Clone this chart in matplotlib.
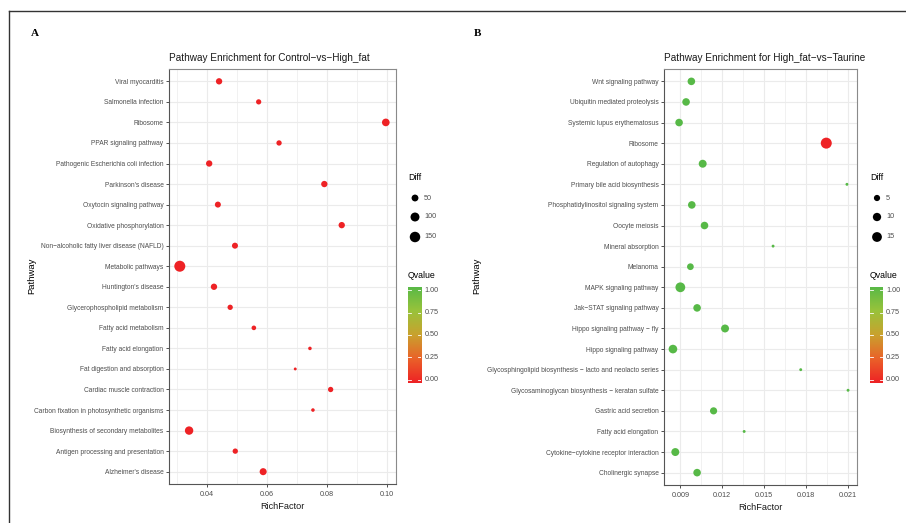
import numpy as np
import matplotlib
matplotlib.use('Agg')
from matplotlib import pyplot as plt
from matplotlib import font_manager
from matplotlib.colors import LinearSegmentedColormap

# -- Data -- #
pathways_a = ["Alzheimer's disease", "Antigen processing and presentation",
              "Biosynthesis of secondary metabolites",
              "Carbon fixation in photosynthetic organisms",
              "Cardiac muscle contraction", "Fat digestion and absorption",
              "Fatty acid elongation", "Fatty acid metabolism",
              "Glycerophospholipid metabolism", "Huntington's disease",
              "Metabolic pathways", "Non\u2212alcoholic fatty liver disease (NAFLD)",
              "Oxidative phosphorylation", "Oxytocin signaling pathway",
              "Parkinson's disease", "Pathogenic Escherichia coli infection",
              "PPAR signaling pathway", "Ribosome", "Salmonella infection",
              "Viral myocarditis"]
rich_a = [0.0588, 0.0495, 0.0341, 0.0754, 0.0813, 0.0695, 0.0744, 0.0557,
          0.0478, 0.0424, 0.0310, 0.0494, 0.0850, 0.0437, 0.0792, 0.0408,
          0.0641, 0.0997, 0.0573, 0.0441]
diff_a = [54, 27, 85, 14, 27, 13, 14, 20, 27, 41, 169, 36, 41, 36, 41, 41,
          27, 67, 26, 41]
qval_a = [0.0] * 20

pathways_b = ["Cholinergic synapse", "Cytokine\u2212cytokine receptor interaction",
              "Fatty acid elongation", "Gastric acid secretion",
              "Glycosaminoglycan biosynthesis \u2212 keratan sulfate",
              "Glycosphingolipid biosynthesis \u2212 lacto and neolacto series",
              "Hippo signaling pathway", "Hippo signaling pathway \u2212 fly",
              "Jak\u2212STAT signaling pathway", "MAPK signaling pathway",
              "Melanoma", "Mineral absorption", "Oocyte meiosis",
              "Phosphatidylinositol signaling system",
              "Primary bile acid biosynthesis", "Regulation of autophagy",
              "Ribosome", "Systemic lupus erythematosus",
              "Ubiquitin mediated proteolysis", "Wnt signaling pathway"]
rich_b = [0.0102, 0.00864, 0.01357, 0.01138, 0.02101, 0.01762, 0.00847,
          0.0122, 0.0102, 0.0090, 0.00972, 0.01564, 0.01073, 0.00982,
          0.02093, 0.0106, 0.01945, 0.00891, 0.00941, 0.00979]
diff_b = [8, 9, 2, 7, 2, 2, 11, 9, 8, 15, 6, 2, 8, 8, 2, 9, 20, 8, 8, 8]
qval_b = [1.0] * 16 + [0.0] + [1.0] * 3

diff_ticks_a = [50, 100, 150]
diff_ticks_b = [5, 10, 15]
q_ticks = [0.0, 0.25, 0.5, 0.75, 1.0]

# -- Style -- #
W, H = 906, 523
DPI = 100
names = {f.name for f in font_manager.fontManager.ttflist}
FONT = 'Liberation Sans Narrow' if 'Liberation Sans Narrow' in names else 'Liberation Sans'
plt.rcParams['font.family'] = [FONT, 'DejaVu Sans']

qcmap = LinearSegmentedColormap.from_list(
    'q', [(0.0, '#EE2225'), (0.25, '#EA6229'), (0.5, '#C9A22E'),
          (0.75, '#98C33B'), (1.0, '#57B947')])

GRID = '#EBEBEB'
TXT = '#4D4D4D'


def dot_size(v, vals, dmin=2.9, dmax=11.0):
    lo, hi = min(vals), max(vals)
    d = dmin + (dmax - dmin) * np.sqrt((np.asarray(v, float) - lo) / (hi - lo))
    return (d * 72.0 / DPI) ** 2


def px_axes(fig, x0, y0, x1, y1):
    return fig.add_axes([x0 / W, 1 - y1 / H, (x1 - x0) / W, (y1 - y0) / H])


def panel(fig, box, names_, rich, diff, qv, xlim, xmaj, xmin_, xfmt, title):
    ax = px_axes(fig, *box)
    y = np.arange(len(names_))
    ax.set_xlim(*xlim)
    ax.set_ylim(-0.6, len(names_) - 0.4)
    ax.set_xticks(xmaj)
    ax.set_xticks(xmin_, minor=True)
    ax.set_xticklabels([xfmt.format(t) for t in xmaj])
    ax.set_yticks(y)
    ax.set_yticklabels(names_)
    ax.grid(True, which='major', color=GRID, lw=0.8)
    ax.grid(True, which='minor', axis='x', color=GRID, lw=0.5)
    ax.set_axisbelow(True)
    ax.tick_params(which='minor', length=0)
    ax.tick_params(which='major', length=2.5, width=0.6, color='#333333',
                   labelsize=4.8, labelcolor=TXT, pad=1.5)
    ax.tick_params(axis='x', labelsize=5.2, pad=2.5)
    for s in ax.spines.values():
        s.set_color('#8A8A8A')
        s.set_linewidth(0.8)
    ax.spines['left'].set_color('#555555')
    ax.spines['bottom'].set_color('#555555')
    ax.scatter(rich, y, s=dot_size(diff, diff), c=qv, cmap=qcmap,
               vmin=0, vmax=1, linewidths=0, zorder=3)
    ax.set_title(title, fontsize=7.2, pad=6, color='#1A1A1A', loc='left')
    ax.set_xlabel('RichFactor', fontsize=6.6, labelpad=3, color='#1A1A1A')
    return ax


fig = plt.figure(figsize=(W / DPI, H / DPI), dpi=DPI)

panel(fig, (169, 69, 396, 484), pathways_a, rich_a, diff_a, qval_a,
      (0.0274, 0.1031), [0.04, 0.06, 0.08, 0.10], [0.03, 0.05, 0.07, 0.09],
      '{:.2f}', 'Pathway Enrichment for Control\u2212vs\u2212High_fat')
panel(fig, (664, 69, 857, 485), pathways_b, rich_b, diff_b, qval_b,
      (0.00783, 0.02165), [0.009, 0.012, 0.015, 0.018, 0.021],
      [0.0105, 0.0135, 0.0165, 0.0195], '{:.3f}',
      'Pathway Enrichment for High_fat\u2212vs\u2212Taurine')

# overlay in pixel coordinates for legends, labels and frame
ov = fig.add_axes([0, 0, 1, 1], zorder=-1)
ov.set_xlim(0, W)
ov.set_ylim(H, 0)
ov.axis('off')
ov.plot([9, 905], [11, 11], color='#333333', lw=1.0)
ov.plot([9, 9], [11, H], color='#333333', lw=1.0)

for lx, lab, ticks, vals, px in [(408, 'A', diff_ticks_a, diff_a, 35),
                                 (870, 'B', diff_ticks_b, diff_b, 478)]:
    ov.text(px, 33, lab, fontsize=8, fontweight='bold',
            family='Liberation Serif', ha='center', va='center')
    ov.text(lx, 177, 'Diff', fontsize=6.3, ha='left', va='center')
    ly = [198, 217, 237]
    leg = fig.add_axes([0, 0, 1, 1], zorder=5)
    leg.set_xlim(0, W)
    leg.set_ylim(H, 0)
    leg.axis('off')
    leg.scatter([lx + 7] * 3, ly, s=dot_size(ticks, vals), color='black',
                linewidths=0)
    for t, yy in zip(ticks, ly):
        leg.text(lx + 16, yy, str(t), fontsize=5.2, color=TXT, va='center')
    leg.text(lx, 276, 'Qvalue', fontsize=6.3, ha='left', va='center')
    cax = px_axes(fig, lx, 287, lx + 13, 383)
    grad = np.linspace(0, 1, 200).reshape(-1, 1)
    cax.imshow(grad, cmap=qcmap, aspect='auto', origin='lower',
               extent=(0, 1, 0, 1))
    cax.set_xticks([])
    cax.set_yticks([])
    for s in cax.spines.values():
        s.set_visible(False)
    for q in q_ticks:
        qy = 0.035 + q * 0.93
        cax.plot([0, 0.2], [qy, qy], color='white', lw=0.6)
        cax.plot([0.8, 1.0], [qy, qy], color='white', lw=0.6)
        cax.text(1.25, qy, '{:.2f}'.format(q), fontsize=5.2, color=TXT,
                 va='center', transform=cax.transAxes)
    cax.set_xlim(0, 1)
    cax.set_ylim(0, 1)

ov.text(32, 276, 'Pathway', rotation=90, fontsize=6.8, ha='center', va='center')
ov.text(477, 276, 'Pathway', rotation=90, fontsize=6.8, ha='center', va='center')

fig.savefig('out.png', dpi=DPI)
